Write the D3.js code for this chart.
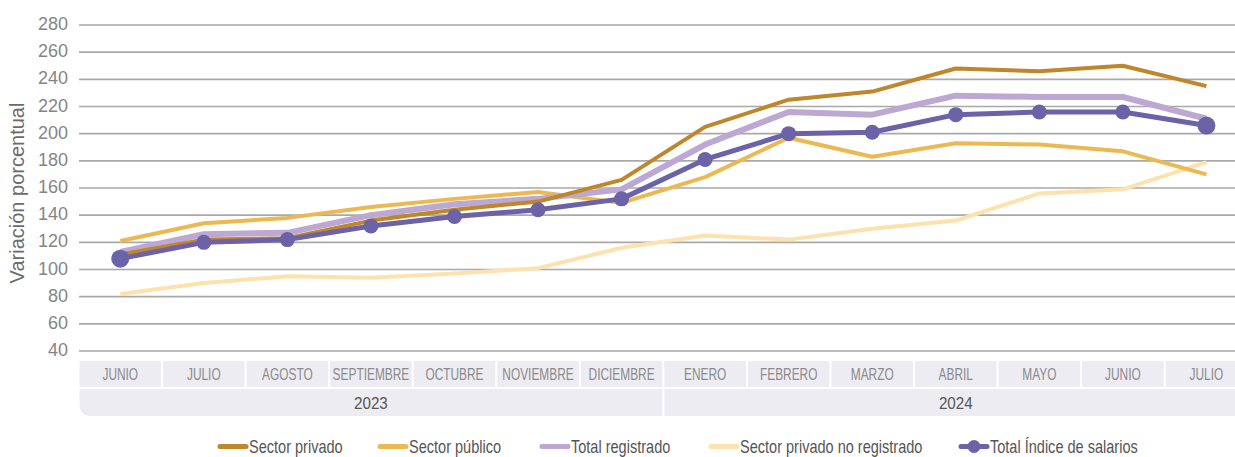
<!DOCTYPE html>
<html>
<head>
<meta charset="utf-8">
<script src="https://cdn.jsdelivr.net/npm/d3@7"></script>
<style>
  body { margin: 0; background: #fff; }
  svg { display: block; }
</style>
</head>
<body>
<div class="chart"></div>
<script>
// month labels (two years), year groups and y ticks
var months = ["JUNIO", "JULIO", "AGOSTO", "SEPTIEMBRE", "OCTUBRE", "NOVIEMBRE", "DICIEMBRE",
              "ENERO", "FEBRERO", "MARZO", "ABRIL", "MAYO", "JUNIO", "JULIO"];
var years = [{label: "2023", first: 0, last: 6}, {label: "2024", first: 7, last: 13}];
var yTicks = [40, 60, 80, 100, 120, 140, 160, 180, 200, 220, 240, 260, 280];

// series values (variación porcentual)
var sectorPrivado   = [111, 122, 123, 136, 144, 150, 166, 205, 225, 231, 248, 246, 250, 235];
var sectorPublico   = [121, 134, 138, 146, 152, 157, 149, 168, 197, 183, 193, 192, 187, 170];
var totalRegistrado = [113, 126, 127, 140, 148, 152, 159, 192, 216, 214, 228, 227, 227, 211];
var noRegistrado    = [82, 90, 95, 94, 97, 101, 116, 125, 122, 130, 136, 156, 159, 179];
var totalIndice     = [108, 120, 122, 132, 139, 144, 152, 181, 200, 201, 214, 216, 216, 206];

var seriesNames = ["Sector privado", "Sector público", "Total registrado",
                   "Sector privado no registrado", "Total Índice de salarios"];

function init(){

  var w = 1235;
  var h = 457;

  // no narrow font installed, so Liberation Sans is squeezed with scale()
  var regular = "'Liberation Sans', Arial, sans-serif";

  var svg = d3.select("div.chart")
              .append("svg")
              .attr("width", w)
              .attr("height", h);

  // band per month, chart runs a bit past the right edge like the original
  var xScale = d3.scaleBand()
                 .domain(d3.range(months.length))
                 .range([78.5, 78.5 + 14 * 83.55]);

  var yScale = d3.scaleLinear().domain([40, 280]).range([351, 25]);

  function cx(i){ return xScale(i) + xScale.bandwidth() / 2; }

  // grid lines
  svg.append("g")
     .selectAll("line")
     .data(yTicks)
     .enter()
     .append("line")
     .attr("x1", 79)
     .attr("x2", w)
     .attr("y1", function(d){ return yScale(d); })
     .attr("y2", function(d){ return yScale(d); })
     .attr("stroke", "#a9a9a9")
     .attr("stroke-width", 1.6);

  // y axis labels
  svg.append("g")
     .selectAll("text")
     .data(yTicks)
     .enter()
     .append("text")
     .attr("x", 68)
     .attr("y", function(d){ return yScale(d) + 5; })
     .attr("text-anchor", "end")
     .attr("font-family", regular)
     .attr("font-size", 18)
     .attr("fill", "#858585")
     .text(function(d){ return d; });

  svg.append("text")
     .attr("transform", "translate(24,193) rotate(-90)")
     .attr("text-anchor", "middle")
     .attr("font-family", regular)
     .attr("font-size", 20)
     .attr("fill", "#6b6b6b")
     .text("Variación porcentual");

  // month header cells
  var cellFill = "#eeecf3";
  var head = svg.append("g");
  head.selectAll("rect")
      .data(months)
      .enter()
      .append("rect")
      .attr("x", function(d, i){ return xScale(i) + 1; })
      .attr("y", 361)
      .attr("width", xScale.bandwidth() - 2)
      .attr("height", 26)
      .attr("fill", cellFill);

  head.selectAll("text")
      .data(months)
      .enter()
      .append("text")
      .attr("transform", function(d, i){ return "translate(" + cx(i) + ",380) scale(0.7,1)"; })
      .attr("text-anchor", "middle")
      .attr("font-family", regular)
      .attr("font-size", 17)
      .attr("fill", "#8a8a8a")
      .text(function(d){ return d; });

  // year cells, rounded at the outer bottom corners
  years.forEach(function(y, k){
    var x0 = xScale(y.first) + 1;
    var x1 = xScale(y.last) + xScale.bandwidth() - 1;
    var y0 = 389, y1 = 416, r = 10;
    var p;
    if (k === 0) {
      p = "M" + x0 + "," + y0 + "H" + x1 + "V" + y1 + "H" + (x0 + r) +
          "A" + r + "," + r + " 0 0 1 " + x0 + "," + (y1 - r) + "Z";
    } else {
      p = "M" + x0 + "," + y0 + "H" + x1 + "V" + (y1 - r) +
          "A" + r + "," + r + " 0 0 1 " + (x1 - r) + "," + y1 + "H" + x0 + "Z";
    }
    svg.append("path").attr("d", p).attr("fill", cellFill);
    svg.append("text")
       .attr("transform", "translate(" + ((x0 + x1) / 2) + ",409) scale(0.92,1)")
       .attr("text-anchor", "middle")
       .attr("font-family", regular)
       .attr("font-size", 16.5)
       .attr("fill", "#555")
       .text(y.label);
  });

  // lines
  var line = d3.line()
               .x(function(d, i){ return cx(i); })
               .y(function(d){ return yScale(d); });

  var drawn = [
    {values: noRegistrado,    color: "#fee2ad", width: 4},
    {values: sectorPublico,   color: "#ecb852", width: 4},
    {values: totalRegistrado, color: "#bca8d3", width: 6},
    {values: sectorPrivado,   color: "#c0862a", width: 4},
    {values: totalIndice,     color: "#6c62a8", width: 5}
  ];

  drawn.forEach(function(s){
    svg.append("path")
       .datum(s.values)
       .attr("d", line)
       .attr("fill", "none")
       .attr("stroke", s.color)
       .attr("stroke-width", s.width)
       .attr("stroke-linejoin", "round");
  });

  // markers on the index line, the ends drawn bigger
  svg.append("g")
     .selectAll("circle")
     .data(totalIndice)
     .enter()
     .append("circle")
     .attr("cx", function(d, i){ return cx(i); })
     .attr("cy", function(d){ return yScale(d); })
     .attr("r", function(d, i){ return (i === 0 || i === totalIndice.length - 1) ? 9 : 7.5; })
     .attr("fill", "#6c62a8");

  // legend
  var legendColors = ["#c0862a", "#ecb852", "#bca8d3", "#fee2ad", "#6c62a8"];
  var legendX = [218, 378, 540, 709, 959];
  var legend = svg.append("g")
                  .selectAll("g")
                  .data(seriesNames)
                  .enter()
                  .append("g")
                  .attr("transform", function(d, i){ return "translate(" + legendX[i] + ",446.5)"; });

  legend.append("line")
        .attr("x1", 2)
        .attr("x2", 28)
        .attr("stroke", function(d, i){ return legendColors[i]; })
        .attr("stroke-width", 5)
        .attr("stroke-linecap", "round");

  legend.filter(function(d, i){ return i === 4; })
        .append("circle")
        .attr("cx", 15)
        .attr("r", 6.5)
        .attr("fill", "#6c62a8");

  legend.append("text")
        .attr("transform", "translate(31,6) scale(0.83,1)")
        .attr("font-family", regular)
        .attr("font-size", 17.5)
        .attr("fill", "#555")
        .text(function(d){ return d; });
}

window.onload = init;
</script>
</body>
</html>
